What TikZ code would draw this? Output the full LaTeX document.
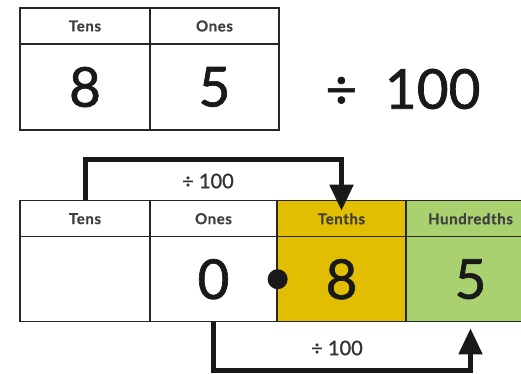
\documentclass[tikz,border=0pt]{standalone}
\usepackage{fontspec}
\setmainfont{Lato}
\newfontfamily\digitfont[FakeBold=1.2]{Lato}
\newfontfamily\headfont[FakeBold=0.8,LetterSpace=4]{Lato}
\usetikzlibrary{arrows.meta}

\definecolor{tenthsyellow}{HTML}{E1BF00}
\definecolor{hundgreen}{HTML}{A9D16F}

\tikzset{
  head/.style={draw=black!85, line width=1.3pt, inner sep=0pt, minimum height=36pt,
    text=black!75, font=\headfont\bfseries\fontsize{15}{15}\selectfont},
  digit/.style={draw=black!85, line width=1.3pt, inner sep=0pt, minimum height=86pt,
    text=black!90, font=\digitfont\fontsize{55}{55}\selectfont},
  movearrow/.style={line width=5pt, black!90, -{Triangle[length=26pt,width=23pt]}},
  steplabel/.style={text=black!80, font=\digitfont\fontsize{20}{20}\selectfont}
}

\begin{document}
\begin{tikzpicture}[x=1pt,y=-1pt]
            \useasboundingbox (0,0) rectangle (521,374);
            \clip (0,0) rectangle (521,374);

            % Top place value table: 85
            \node[head, minimum width=130pt] (tTens) at (85,26) {Tens};
            \node[head, minimum width=129pt] (tOnes) at (214.5,26) {Ones};
            \node[digit, minimum width=130pt] (tEight) at (85,87) {8};
            \node[digit, minimum width=129pt] (tFive) at (214.5,87) {5};
            \node[text=black!90, font=\digitfont\fontsize{55}{55}\selectfont] (divide) at (403,89) {÷\hspace{0.5em}100};

            % Bottom place value table: 0.85
            \node[head, minimum width=130pt] (hTens) at (85,218.7) {Tens};
            \node[head, minimum width=127pt] (hOnes) at (213.5,218.7) {Ones};
            \node[head, minimum width=129pt, fill=tenthsyellow] (hTenths) at (341.5,218.7) {Tenths};
            \node[head, minimum width=129pt, fill=hundgreen] (hHund) at (470.5,218.7) {Hundredths};

            \node[digit, minimum width=130pt, minimum height=85pt] (bTens) at (85,279.2) {};
            \node[digit, minimum width=127pt, minimum height=85pt] (bOnes) at (213.5,279.2) {0};
            \node[digit, minimum width=129pt, minimum height=85pt, fill=tenthsyellow] (bTenths) at (341.5,279.2) {8};
            \node[digit, minimum width=129pt, minimum height=85pt, fill=hundgreen] (bHund) at (470.5,279.2) {5};

            % Decimal point
            \fill[black!90] (bOnes.east) circle (10pt);

            % Digits move two places to the right
            \draw[movearrow, shorten >=8pt] (hTens.north) -- ++(0,-41) -| (hTenths.center);
            \node[steplabel] (topstep) at (208,181) {÷ 100};

            \draw[movearrow, shorten >=6pt] (bOnes.south) -- ++(0,48) -| (bHund.south);
            \node[steplabel] (botstep) at (337,348) {÷ 100};
        \end{tikzpicture}
\end{document}
